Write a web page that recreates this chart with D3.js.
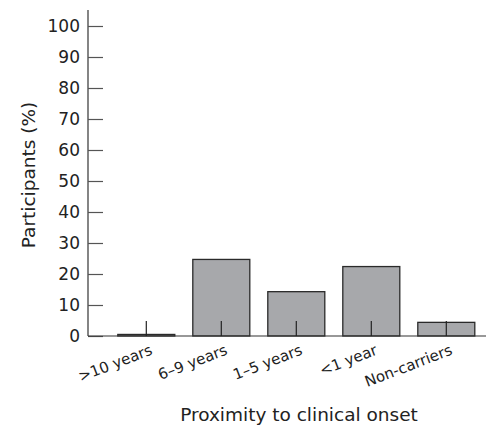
<!DOCTYPE html>
<html>
<head>
<meta charset="utf-8">
<script src="https://cdn.jsdelivr.net/npm/d3@7"></script>
<style>
body{margin:0;background:#fff}
svg{display:block}
</style>
</head>
<body>
<svg></svg>
<script>
const categories = ['>10 years', '6–9 years', '1–5 years', '<1 year', 'Non-carriers']
const values = [0.5, 24.7, 14.3, 22.4, 4.4]
const yTicks = [0, 10, 20, 30, 40, 50, 60, 70, 80, 90, 100]

const width = 487, height = 427
const font = '"DejaVu Sans", sans-serif'

const svg = d3.select('svg').attr('width', width).attr('height', height)

const x = d3.scaleBand().domain(categories).range([108.8, 483.8])
  .paddingInner(0.24).paddingOuter(0.12)
const y = d3.scaleLinear().domain([0, 100]).range([336, 26])

// bars
svg.append('g').selectAll('rect')
  .data(values)
  .join('rect')
  .attr('x', (d, i) => x(categories[i]))
  .attr('y', d => y(d))
  .attr('width', x.bandwidth())
  .attr('height', d => y(0) - y(d))
  .attr('fill', '#a7a8ab')
  .attr('stroke', '#2a2a2a')
  .attr('stroke-width', 1.3)

// y axis, ticks point inward
const yAxis = svg.append('g')
  .attr('transform', 'translate(88,0)')
  .call(d3.axisRight(y).tickValues(yTicks).tickSize(15).tickFormat(d3.format('d')))
yAxis.select('.domain').attr('d', 'M0,10V336').attr('stroke', '#333').attr('stroke-width', 1.2)
yAxis.selectAll('.tick line').attr('stroke', '#555').attr('stroke-width', 1.2)
yAxis.selectAll('.tick text')
  .attr('x', -8).attr('text-anchor', 'end')
  .attr('font-family', font).attr('font-size', 17).attr('fill', '#222')

// x axis, ticks point up
const xAxis = svg.append('g')
  .attr('transform', 'translate(0,336)')
  .call(d3.axisTop(x).tickSize(15).tickSizeOuter(0))
xAxis.select('.domain').attr('d', 'M88,0H486').attr('stroke', '#333').attr('stroke-width', 1.2)
xAxis.selectAll('.tick line').attr('stroke', '#222').attr('stroke-width', 1.2)
xAxis.selectAll('.tick text')
  .attr('y', 0).attr('dy', 0)
  .attr('text-anchor', 'end')
  .attr('transform', 'translate(7,18) rotate(-21)')
  .attr('font-family', font).attr('font-size', 15).attr('fill', '#222')

// titles
svg.append('text')
  .attr('x', 299).attr('y', 421)
  .attr('text-anchor', 'middle')
  .attr('font-family', font).attr('font-size', 18.5).attr('fill', '#222')
  .text('Proximity to clinical onset')

svg.append('text')
  .attr('transform', 'translate(35,175) rotate(-90)')
  .attr('text-anchor', 'middle')
  .attr('font-family', font).attr('font-size', 18.5).attr('fill', '#222')
  .text('Participants (%)')
</script>
</body>
</html>
